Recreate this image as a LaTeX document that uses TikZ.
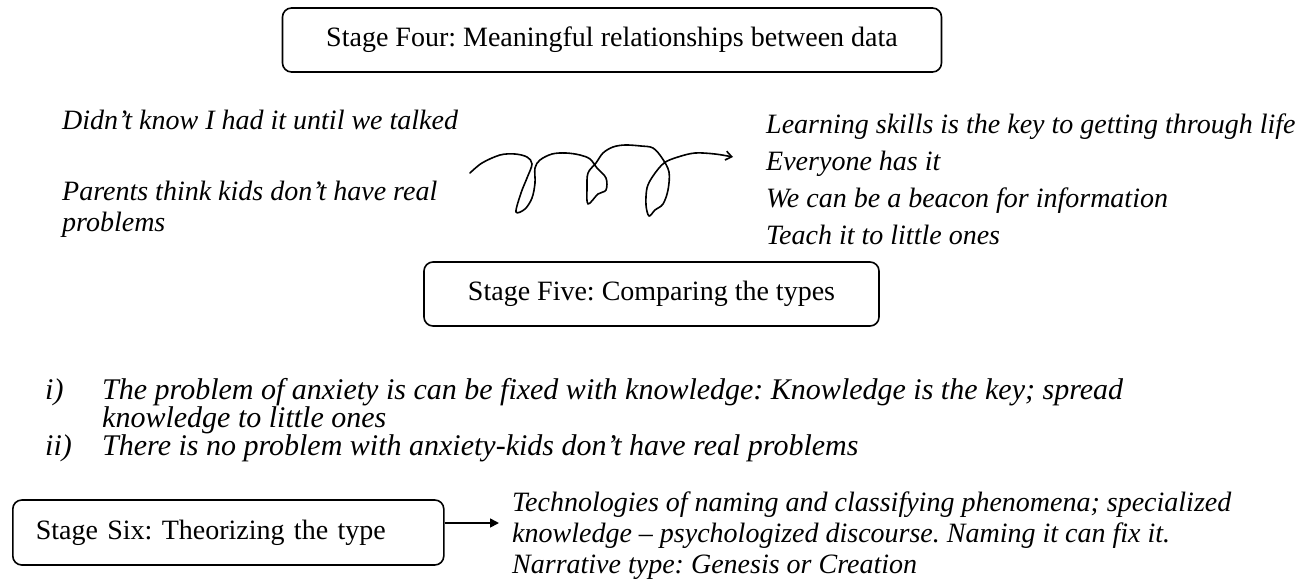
\documentclass[tikz,border=0pt]{standalone}
\usepackage{fontspec}
\setmainfont{Liberation Serif}
\usetikzlibrary{arrows.meta}
\frenchspacing
\begin{document}
\begin{tikzpicture}[x=1pt,y=-1pt,
  stagebox/.style={draw, line width=1.6pt, rounded corners=9pt, inner sep=0pt,
    font=\fontsize{28}{32}\selectfont},
  note/.style={anchor=base west, inner sep=0pt, font=\fontsize{28}{32}\selectfont\itshape},
  listtext/.style={anchor=base west, inner sep=0pt, font=\fontsize{30}{32}\selectfont\itshape},
  link/.style={line width=1.6pt, -{Triangle[length=9pt,width=9pt]}},
  squiggle/.style={line width=1.6pt, line cap=round, line join=round, -{Straight Barb[length=6pt,width=9pt]}}]
\useasboundingbox (0,0) rectangle (1310,584);

% Stage four
\node[stagebox, minimum width=659pt, minimum height=64pt] (s4) at (612,40)
  {Stage Four: Meaningful relationships between data};

% left comments
\node[note] (d1) at (62,129) {Didn’t know I had it until we talked};
\node[note] (p1) at (62,200) {Parents think kids don’t have real};
\node[note] (p2) at (62,231) {problems};

% hand-drawn looping arrow
\draw[squiggle] plot[smooth, tension=0.55] coordinates {
  (470,173) (482,163) (500,155) (515,154) (527,157) (532,164) (527,178)
  (521,193) (516,212) (525,209) (532,198) (535,183) (535,168) (540,160)
  (552,154) (566,153) (580,155) (590,159) (597,168) (606,178) (606,190)
  (598,194) (588,204) (587,188) (588,173) (596,163) (603,153) (613,147)
  (625,145) (641,146) (653,148) (662,158) (669,172) (668,190) (663,204)
  (655,210) (649,216) (646,205) (647,188) (653,176) (664,163) (678,157)
  (695,153) (715,154) (733,157)};

% right comments
\node[note] (r1) at (766,133) {Learning skills is the key to getting through life};
\node[note] (r2) at (766,170) {Everyone has it};
\node[note] (r3) at (766,207) {We can be a beacon for information};
\node[note] (r4) at (766,244) {Teach it to little ones};

% Stage five
\node[stagebox, minimum width=455pt, minimum height=64pt] (s5) at (651.5,294)
  {Stage Five: Comparing the types};

% numbered comparison
\node[listtext] (n1) at (45,399) {i)};
\node[listtext] (t1) at (102,399) {The problem of anxiety is can be fixed with knowledge: Knowledge is the key; spread};
\node[listtext] (t1b) at (102,427) {knowledge to little ones};
\node[listtext] (n2) at (45,455) {ii)};
\node[listtext] (t2) at (102,455) {There is no problem with anxiety-kids don’t have real problems};

% Stage six
\node[stagebox, anchor=west, text width=385pt, align=left, inner xsep=23pt,
  minimum height=65pt] (s6) at (12,532.5) {Stage Six: Theorizing the type};

\node[note] (k1) at (512,511) {Technologies of naming and classifying phenomena; specialized};
\node[note] (k2) at (512,542) {knowledge – psychologized discourse. Naming it can fix it.};
\node[note] (k3) at (512,573) {Narrative type: Genesis or Creation};

\coordinate (a1) at (s6.east |- 0,523);
\coordinate (a2) at (499,523);
\draw[link] (a1) -- (a2);
\end{tikzpicture}
\end{document}
